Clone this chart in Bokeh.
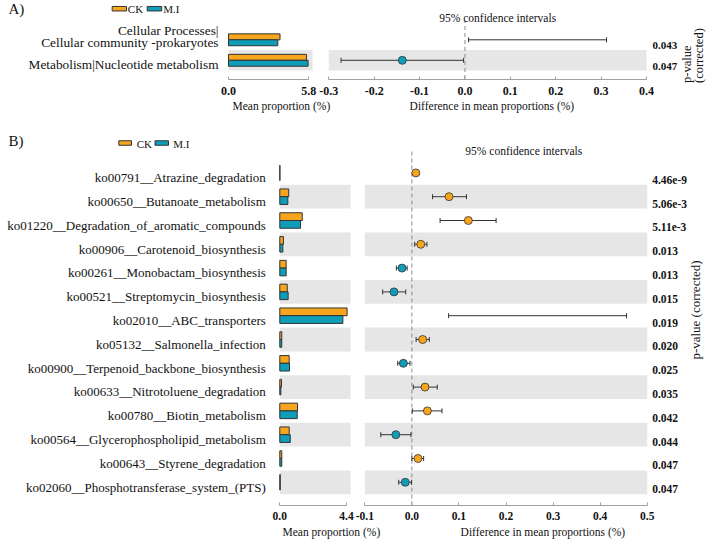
import math
from bokeh.plotting import figure
from bokeh.models import (Range1d, LinearAxis, FixedTicker, PrintfTickFormatter,
                          Label, BoxAnnotation)
from bokeh.layouts import column
from bokeh.embed import file_html
from bokeh.resources import INLINE

NAN = float("nan")

# ---------------- data: panel A ----------------
a_rows = ["Cellular Processes|\nCellular community -prokaryotes",
          "Metabolism|Nucleotide metabolism"]
a_ck = [3.72, 5.63]
a_mi = [3.56, 5.75]
a_diff = [NAN, -0.138]
a_lo = [0.008, -0.273]
a_hi = [0.312, -0.003]
a_p = ["0.043", "0.047"]
a_bar_ticks = [0.0, 5.8]
a_ci_ticks = [-0.3, -0.2, -0.1, 0.0, 0.1, 0.2, 0.3, 0.4]

# ---------------- data: panel B ----------------
b_rows = ["ko00791__Atrazine_degradation",
          "ko00650__Butanoate_metabolism",
          "ko01220__Degradation_of_aromatic_compounds",
          "ko00906__Carotenoid_biosynthesis",
          "ko00261__Monobactam_biosynthesis",
          "ko00521__Streptomycin_biosynthesis",
          "ko02010__ABC_transporters",
          "ko05132__Salmonella_infection",
          "ko00900__Terpenoid_backbone_biosynthesis",
          "ko00633__Nitrotoluene_degradation",
          "ko00780__Biotin_metabolism",
          "ko00564__Glycerophospholipid_metabolism",
          "ko00643__Styrene_degradation",
          "ko02060__Phosphotransferase_system_(PTS)"]
b_ck = [0.01, 0.59, 1.48, 0.24, 0.42, 0.49, 4.44, 0.13, 0.62, 0.11, 1.17, 0.62, 0.13, 0.03]
b_mi = [0.01, 0.53, 1.37, 0.20, 0.42, 0.55, 4.16, 0.13, 0.64, 0.07, 1.15, 0.69, 0.13, 0.03]
b_diff = [0.0085, 0.079, 0.120, 0.019, -0.021, -0.038, NAN, 0.023, -0.018, 0.028, 0.033, -0.034, 0.013, -0.014]
b_lo = [0.007, 0.044, 0.060, 0.006, -0.033, -0.062, 0.078, 0.009, -0.030, 0.003, 0.001, -0.066, 0.000, -0.028]
b_hi = [0.010, 0.116, 0.179, 0.032, -0.010, -0.013, 0.456, 0.037, -0.004, 0.054, 0.064, -0.002, 0.025, -0.001]
b_p = ["4.46e-9", "5.06e-3", "5.11e-3", "0.013", "0.013", "0.015", "0.019",
       "0.020", "0.025", "0.035", "0.042", "0.044", "0.047", "0.047"]
b_bar_ticks = [0.0, 4.4]
b_ci_ticks = [-0.1, 0.0, 0.1, 0.2, 0.3, 0.4, 0.5]

groups = ["CK", "M.I"]

# ---------------- styles ----------------
FONT = "Liberation Serif"
ORANGE = "#F7A51C"
TEAL = "#0F9DBA"
EDGE = "#333333"
BAND = "#E6E6E6"
AXIS = "#A0A0A0"
DASH = "#8C8C8C"
TXT = "#111111"
W = 708
LEFT, RIGHT = 0, 708   # canvas edges in window pixels

# layout (window pixel coordinates)
LA = dict(top=0, h=118, bar0=228, bar_last=308.3, bar_band_r=312,
          ci_first=328.3, ci_last=646, dash_top=20, axis_y=78.5,
          row0=39.3, pitch=20.5, bar_h=0.29, cap=5,
          lab_size=13.3, lab_standoff=4, lab_off={1: [4.0], 2: [-9.6, 2.9]},
          p_off=5.8, p_size=11, p_standoff=0,
          tick_size=12, tick_standoff=8, title_y=105.5,
          mp_x=232, diff_x=491.4, ci_title=(497.2, 17),
          tag=("A)", 8, 8.7), legend_y=8.2, legend_h=4.5,
          legend=[(111.7, 126, 127.3), (146.7, 161.2, 162.7)],
          pv_lines=[("p-value", 686.7), ("(corrected)", 698.7)], pv_y=82.5)
LB = dict(top=118, h=421, bar0=279.3, bar_last=346, bar_band_r=350,
          ci_first=364.3, ci_last=646.7, dash_top=151, axis_y=505,
          row0=172.4, pitch=23.8, bar_h=0.325, cap=5,
          lab_size=13, lab_standoff=8, lab_off={1: [4.8]},
          p_off=6.9, p_size=11.5, p_standoff=-1,
          tick_size=11.5, tick_standoff=6, title_y=531.5,
          mp_x=282, diff_x=542.4, ci_title=(523.3, 150),
          tag=("B)", 8, 140.8), legend_y=142.5, legend_h=4.5,
          legend=[(118.3, 131, 136.2), (154.5, 168, 172.8)],
          pv_center=(695, 309.5))


def make_panel(L, rows, ck, mi, diff, lo, hi, pv, bar_ticks, ci_ticks):
    n = len(rows)
    pitch = L["pitch"]
    top, bottom = L["top"], L["top"] + L["h"]
    ys = [n - 1 - i for i in range(n)]
    y0_px = L["row0"] + (n - 1) * pitch

    def yv(R):  # window pixel row -> data y
        return (y0_px - R) / pitch

    ppu = (L["ci_last"] - L["ci_first"]) / (ci_ticks[-1] - ci_ticks[0])
    ci_start = ci_ticks[0] - (L["ci_first"] - LEFT) / ppu
    ci_end = ci_ticks[-1] + (RIGHT - L["ci_last"]) / ppu
    bppu = (L["bar_last"] - L["bar0"]) / bar_ticks[-1]
    bar_start = -(L["bar0"] - LEFT) / bppu
    bar_end = (RIGHT - L["bar0"]) / bppu
    band_r = (L["bar_band_r"] - L["bar0"]) / bppu

    p = figure(width=W, height=L["h"],
               x_range=Range1d(ci_start, ci_end), y_range=Range1d(yv(bottom), yv(top)),
               x_axis_type=None, y_axis_type=None,
               output_backend="svg", toolbar_location=None,
               min_border=0, min_border_left=0, min_border_right=0,
               min_border_top=0, min_border_bottom=0)
    p.extra_x_ranges = {"bar": Range1d(bar_start, bar_end)}
    p.outline_line_color = None
    p.background_fill_color = "white"
    p.border_fill_color = "white"

    # alternating gray bands
    band_y = [y for i, y in enumerate(ys) if i % 2 == 1]
    p.hbar(y=band_y, height=1, left=0, right=band_r, x_range_name="bar",
           fill_color=BAND, line_color=None)
    p.hbar(y=band_y, height=1, left=ci_ticks[0], right=ci_ticks[-1],
           fill_color=BAND, line_color=None)

    # zero line
    p.segment(x0=[0], y0=[yv(L["axis_y"])], x1=[0], y1=[yv(L["dash_top"])],
              line_color=DASH, line_dash="4 3", line_width=1)

    # confidence intervals
    c = L["cap"] / 2 / pitch
    p.segment(x0=lo, y0=ys, x1=hi, y1=ys, line_color=EDGE, line_width=1)
    p.segment(x0=lo, y0=[y - c for y in ys], x1=lo, y1=[y + c for y in ys],
              line_color=EDGE, line_width=1)
    p.segment(x0=hi, y0=[y - c for y in ys], x1=hi, y1=[y + c for y in ys],
              line_color=EDGE, line_width=1)
    colors = [ORANGE if (not math.isnan(d) and d > 0) else TEAL for d in diff]
    p.scatter(x=diff, y=ys, size=8, fill_color=colors, line_color=EDGE, line_width=0.8)

    # mean proportion bars
    h = L["bar_h"]
    p.hbar(y=[y + h / 2 for y in ys], height=h, left=0, right=ck, x_range_name="bar",
           fill_color=ORANGE, line_color=EDGE, line_width=1)
    p.hbar(y=[y - h / 2 for y in ys], height=h, left=0, right=mi, x_range_name="bar",
           fill_color=TEAL, line_color=EDGE, line_width=1)

    # bottom axes
    def style_x(ax):
        ax.axis_line_color = AXIS
        ax.major_tick_line_color = AXIS
        ax.major_tick_in = 3
        ax.major_tick_out = 0
        ax.minor_tick_line_color = None
        ax.major_label_text_font = FONT
        ax.major_label_text_font_style = "bold"
        ax.major_label_text_font_size = f"{L['tick_size']}px"
        ax.major_label_text_color = TXT
        ax.major_label_standoff = L["tick_standoff"]

    ay = yv(L["axis_y"])
    bax = LinearAxis(x_range_name="bar", ticker=FixedTicker(ticks=bar_ticks),
                     formatter=PrintfTickFormatter(format="%.1f"),
                     bounds=(bar_ticks[0], bar_ticks[-1]), fixed_location=ay)
    cax = LinearAxis(ticker=FixedTicker(ticks=ci_ticks),
                     formatter=PrintfTickFormatter(format="%.1f"),
                     bounds=(ci_ticks[0], ci_ticks[-1]), fixed_location=ay)
    style_x(bax)
    style_x(cax)
    p.add_layout(bax, "below")
    p.add_layout(cax, "below")

    # category labels (left axis at bar zero)
    lab_ticks, lab_over = [], {}
    for y, name in zip(ys, rows):
        lines = name.split("\n")
        for off, line in zip(L["lab_off"][len(lines)], lines):
            t = y - off / pitch
            lab_ticks.append(t)
            lab_over[t] = line
    lax = LinearAxis(x_range_name="bar", fixed_location=0,
                     ticker=FixedTicker(ticks=lab_ticks), major_label_overrides=lab_over,
                     axis_line_color=None, major_tick_line_color=None,
                     minor_tick_line_color=None, major_label_standoff=L["lab_standoff"],
                     major_label_text_font=FONT, major_label_text_color=TXT,
                     major_label_text_font_size=f"{L['lab_size']}px")
    p.add_layout(lax, "left")

    # p-values (right axis at end of CI panel)
    p_ticks, p_over = [], {}
    for y, v in zip(ys, pv):
        t = y - L["p_off"] / pitch
        p_ticks.append(t)
        p_over[t] = v
    pax = LinearAxis(fixed_location=ci_ticks[-1],
                     ticker=FixedTicker(ticks=p_ticks), major_label_overrides=p_over,
                     axis_line_color=None, major_tick_line_color=None,
                     minor_tick_line_color=None, major_label_standoff=L["p_standoff"],
                     major_label_text_font=FONT, major_label_text_font_style="bold",
                     major_label_text_color=TXT,
                     major_label_text_font_size=f"{L['p_size']}px")
    p.add_layout(pax, "right")

    def label(text, xR, yR, size, align="left", baseline="middle", angle=0):
        p.add_layout(Label(x=xR - LEFT, y=bottom - yR, x_units="screen", y_units="screen",
                           text=text, text_font=FONT, text_font_size=f"{size}px",
                           text_align=align, text_baseline=baseline, text_color=TXT,
                           angle=angle, angle_units="deg"))

    # titles
    label("Mean proportion (%)", L["mp_x"], L["title_y"], 11.5)
    label("Difference in mean proportions (%)", L["diff_x"], L["title_y"], 11.5, align="center")
    label("95% confidence intervals", L["ci_title"][0], L["ci_title"][1], 11.5, align="center")
    tag, tx, ty = L["tag"]
    label(tag, tx, ty, 15)

    # legend
    ly, lh = L["legend_y"], L["legend_h"]
    for (x0, x1, xt), name, col in zip(L["legend"], groups, [ORANGE, TEAL]):
        p.add_layout(BoxAnnotation(left=x0 - LEFT, right=x1 - LEFT,
                                   top=bottom - (ly - lh / 2), bottom=bottom - (ly + lh / 2),
                                   left_units="screen", right_units="screen",
                                   top_units="screen", bottom_units="screen",
                                   fill_color=col, fill_alpha=1, line_color=EDGE,
                                   line_alpha=1, line_width=1, level="overlay"))
        label(name, xt, ly + 0.6, 11)

    # p-value axis title
    if "pv_lines" in L:
        for text, xR in L["pv_lines"]:
            label(text, xR, L["pv_y"], 12.5, align="left", angle=90)
    else:
        cx, cy = L["pv_center"]
        label("p-value (corrected)", cx, cy, 13, align="center", angle=90)
    return p


pA = make_panel(LA, a_rows, a_ck, a_mi, a_diff, a_lo, a_hi, a_p, a_bar_ticks, a_ci_ticks)
pB = make_panel(LB, b_rows, b_ck, b_mi, b_diff, b_lo, b_hi, b_p, b_bar_ticks, b_ci_ticks)

layout = column(pA, pB)
open("out.html", "w").write(file_html(layout, INLINE))
